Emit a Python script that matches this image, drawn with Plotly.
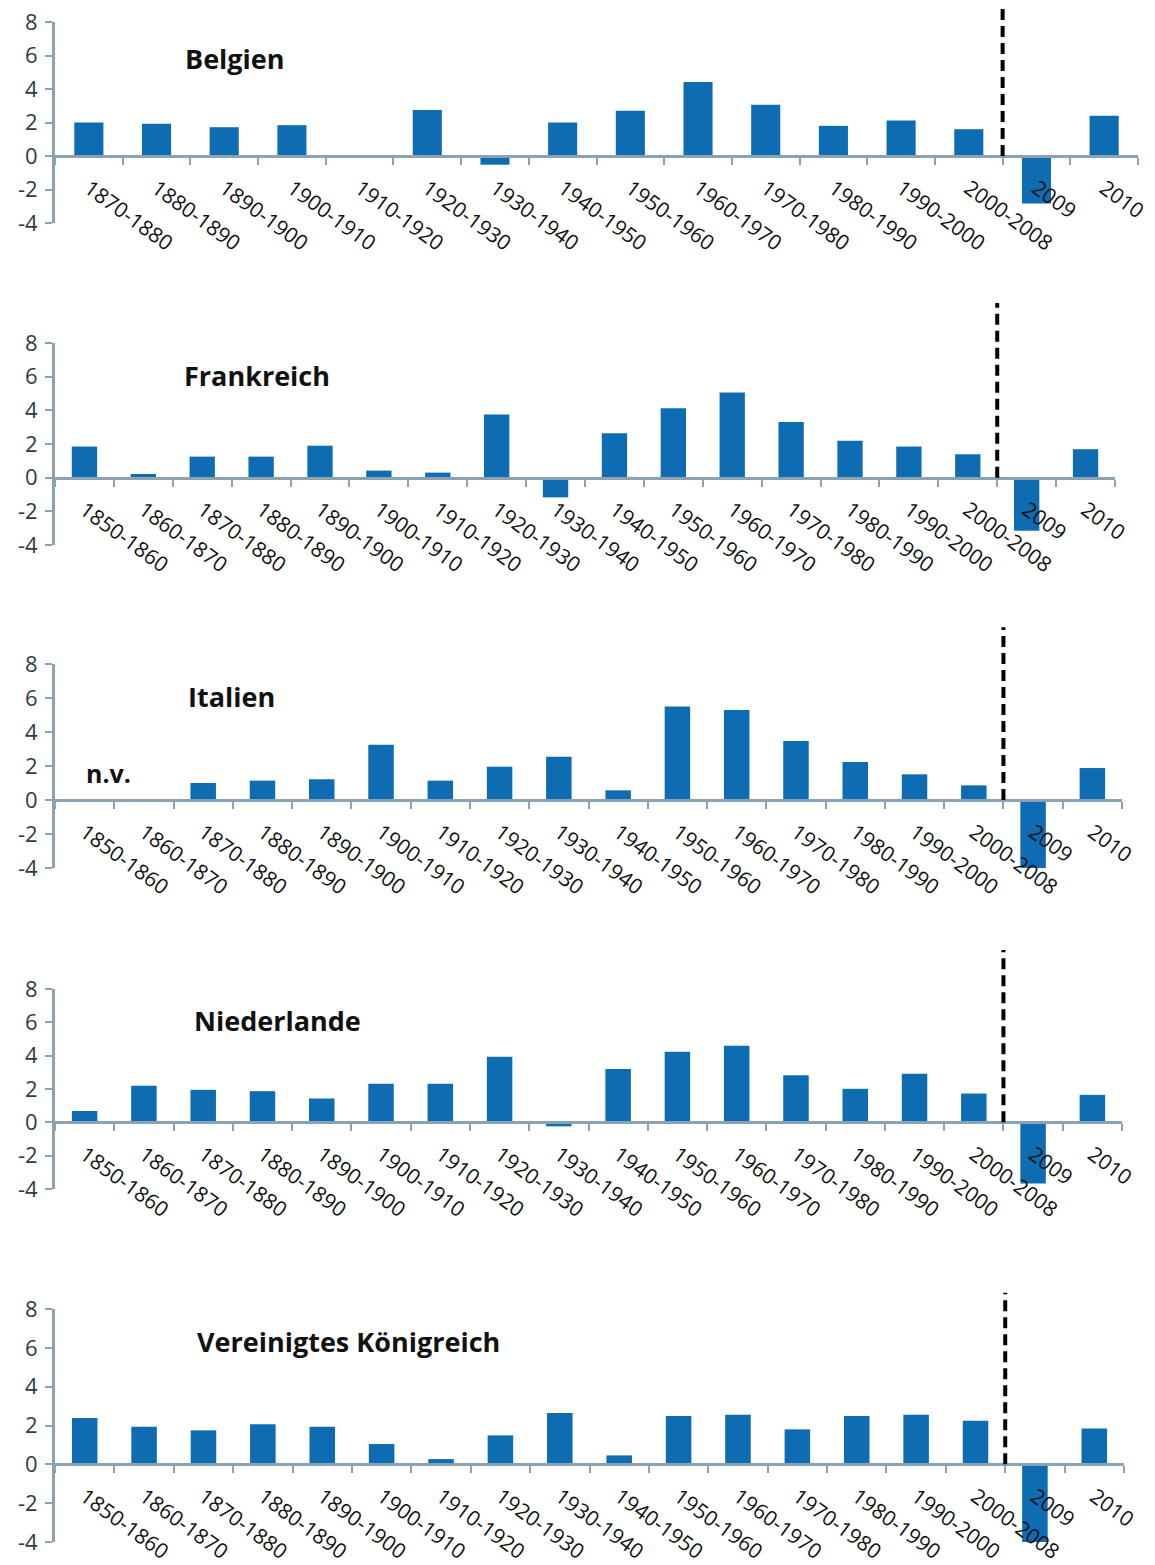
import plotly.graph_objects as go

# ---------------- data ----------------
cats_belgien = ["1870-1880", "1880-1890", "1890-1900", "1900-1910", "1910-1920", "1920-1930",
                "1930-1940", "1940-1950", "1950-1960", "1960-1970", "1970-1980", "1980-1990",
                "1990-2000", "2000-2008", "2009", "2010"]
cats_long = ["1850-1860", "1860-1870"] + cats_belgien

belgien = [2.0, 1.92, 1.72, 1.84, -0.1, 2.74, -0.52, 2.0, 2.7, 4.42, 3.06, 1.8, 2.12, 1.6, -2.84, 2.4]
frankreich = [1.85, 0.22, 1.25, 1.25, 1.9, 0.42, 0.3, 3.75, -1.17, 2.64, 4.13, 5.06, 3.3, 2.2, 1.85, 1.39, -3.15, 1.69]
italien = [None, None, 1.0, 1.14, 1.22, 3.25, 1.14, 1.96, 2.55, 0.57, 5.5, 5.3, 3.47, 2.24, 1.51, 0.86, -4.2, 1.88]
niederlande = [0.68, 2.19, 1.95, 1.87, 1.43, 2.31, 2.31, 3.94, -0.24, 3.2, 4.24, 4.6, 2.83, 2.01, 2.91, 1.73, -3.67, 1.65]
vk = [2.39, 1.94, 1.75, 2.06, 1.94, 1.05, 0.27, 1.49, 2.64, 0.46, 2.49, 2.56, 1.8, 2.49, 2.56, 2.25, -4.9, 1.85]

titles = ["Belgien", "Frankreich", "Italien", "Niederlande", "Vereinigtes Königreich"]
y_ticks = [-4, -2, 0, 2, 4, 6, 8]

panels = [
    (cats_belgien, belgien),
    (cats_long, frankreich),
    (cats_long, italien),
    (cats_long, niederlande),
    (cats_long, vk),
]

# ---------------- layout geometry ----------------
# page pixels of the reference; the figure sits at an 8px page offset (body margin)
OFF = 8
W, H = 1155 - OFF, 1565 - OFF
px_boxes = [  # (left, right, top(y=8), bottom(y=-4)) in page pixels
    (55, 1138, 22, 223),
    (55, 1115, 343, 545),
    (55, 1122, 664, 868),
    (55, 1122, 989, 1189),
    (55, 1124, 1309, 1542),
]
title_pos = [(0.118, 0.82), (0.12, 0.84), (0.123, 0.84), (0.128, 0.84), (0.131, 0.86)]
dash_top = [1.12, 1.198, 1.18, 1.195, 1.07]

BAR = "#0e6cb2"
AXIS = "#8aa2b2"
FONT = "Open Sans"

fig = go.Figure()
layout = dict(
    width=W, height=H,
    margin=dict(l=0, r=0, t=0, b=0, pad=0, autoexpand=False),
    paper_bgcolor="white", plot_bgcolor="white",
    showlegend=False, bargap=0.57,
    font=dict(family=FONT, size=20, color="#111111"),
    shapes=[], annotations=[],
)

for i, ((cats, vals), (l, r, t, b)) in enumerate(zip(panels, px_boxes), start=1):
    xa = "x" if i == 1 else f"x{i}"
    ya = "y" if i == 1 else f"y{i}"
    fig.add_trace(go.Bar(x=cats, y=vals, xaxis=xa, yaxis=ya, cliponaxis=False,
                         marker=dict(color=BAR, line=dict(width=0)), width=0.43))
    ybot = 1 - (b - OFF) / H
    ytop = 1 - (t - OFF) / H
    n = len(cats)
    layout["xaxis" if i == 1 else f"xaxis{i}"] = dict(
        domain=[(l - OFF) / W, (r - OFF) / W], anchor="free",
        position=ybot + (ytop - ybot) * (4 / 12),
        type="category", range=[-0.5, n - 0.5], automargin=False,
        showline=True, linecolor=AXIS, linewidth=3,
        ticks="outside", tickson="boundaries", ticklen=7, tickcolor=AXIS, tickwidth=1.5,
        tickangle=36, ticklabelstandoff=10, ticklabeloverflow="allow",
        tickfont=dict(family=FONT, size=21, color="#111111"),
        showgrid=False, zeroline=False, fixedrange=True,
    )
    layout["yaxis" if i == 1 else f"yaxis{i}"] = dict(
        domain=[ybot, ytop], anchor=xa, range=[-4, 8], automargin=False,
        tickvals=y_ticks, ticktext=[str(v) for v in y_ticks],
        showline=True, linecolor=AXIS, linewidth=3,
        ticks="outside", ticklen=7, tickcolor=AXIS, tickwidth=1.5, ticklabelstandoff=3,
        ticklabeloverflow="allow",
        tickfont=dict(family=FONT, size=22, color="#2d3c46"),
        showgrid=False, zeroline=False, fixedrange=True,
    )
    # dashed separator between 2000-2008 and 2009
    layout["shapes"].append(dict(
        type="line", xref=f"{xa} domain", yref=f"{ya} domain",
        x0=(n - 2) / n, x1=(n - 2) / n, y0=4 / 12, y1=dash_top[i - 1],
        line=dict(color="black", width=4, dash="11px,6px"), layer="above",
    ))
    tx, ty = title_pos[i - 1]
    layout["annotations"].append(dict(
        text=f"<b>{titles[i - 1]}</b>", xref=f"{xa} domain", yref=f"{ya} domain",
        x=tx, y=ty, xanchor="left", yanchor="middle", showarrow=False,
        font=dict(family=FONT, size=27, color="#111111"),
    ))

# n.v. label for missing Italian data
layout["annotations"].append(dict(
    text="<b>n.v.</b>", xref="x3", yref="y3", x=0.4, y=1.6,
    xanchor="center", yanchor="middle", showarrow=False,
    font=dict(family=FONT, size=25, color="#111111"),
))

fig.update_layout(**layout)
fig.write_html("out.html")
